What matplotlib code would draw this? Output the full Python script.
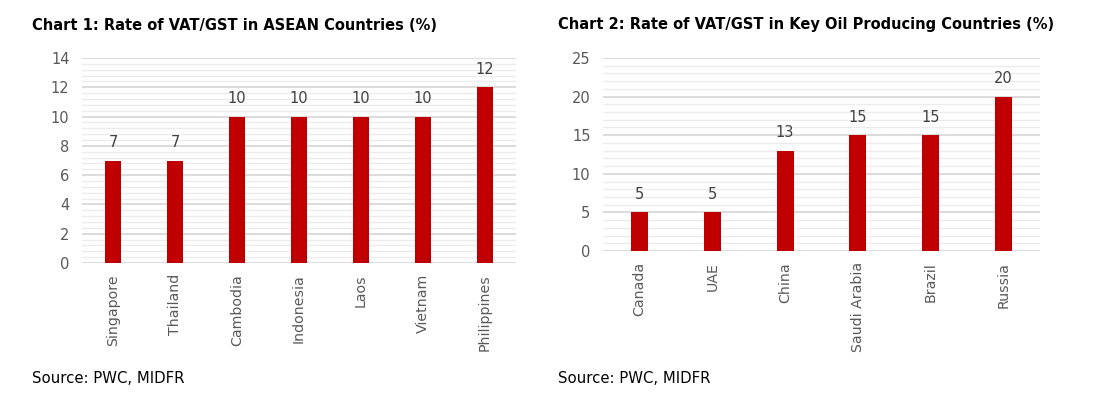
import matplotlib
matplotlib.use("Agg")
import matplotlib.pyplot as plt
from matplotlib.ticker import MultipleLocator

# %% Data
asean_countries = ['Singapore', 'Thailand', 'Cambodia', 'Indonesia', 'Laos', 'Vietnam', 'Philippines']
asean_vat = [7, 7, 10, 10, 10, 10, 12]

oil_countries = ['Canada', 'UAE', 'China', 'Saudi Arabia', 'Brazil', 'Russia']
oil_vat = [5, 5, 13, 15, 15, 20]

title1 = 'Chart 1: Rate of VAT/GST in ASEAN Countries (%)'
title2 = 'Chart 2: Rate of VAT/GST in Key Oil Producing Countries (%)'
source = 'Source: PWC, MIDFR'

# %% Style
bar_color = '#C00000'
tick_color = '#595959'
label_color = '#404040'
plt.rcParams['font.family'] = ['DejaVu Sans']

fig = plt.figure(figsize=(10.98, 4.11), dpi=100)


def draw_chart(ax, cats, vals, ymax, major, width):
    x = range(len(cats))
    ax.bar(x, vals, width=width, color=bar_color, zorder=3)
    # value labels above each bar
    for xi, v in zip(x, vals):
        ax.annotate(str(v), (xi, v), xytext=(0, 7.5), textcoords='offset points',
                    ha='center', va='bottom', fontsize=10.5, color=label_color)
    ax.set_xlim(-0.5, len(cats) - 0.5)
    ax.set_ylim(0, ymax)
    ax.yaxis.set_major_locator(MultipleLocator(major))
    ax.yaxis.set_minor_locator(MultipleLocator(major / 5))
    ax.grid(axis='y', which='major', color='#d9d9d9', linewidth=1.3, zorder=0)
    ax.grid(axis='y', which='minor', color='#ececec', linewidth=1.0, zorder=0)
    ax.set_xticks(list(x))
    ax.set_xticklabels(cats, rotation=90, fontsize=10.2, color=tick_color)
    ax.tick_params(axis='y', labelsize=10.5, labelcolor=tick_color, length=0, pad=9)
    ax.tick_params(axis='y', which='minor', length=0)
    ax.tick_params(axis='x', length=0, pad=8)
    for s in ax.spines.values():
        s.set_visible(False)
    ax.set_axisbelow(True)


ax1 = fig.add_axes([0.0747, 0.360, 0.3953, 0.4988])
draw_chart(ax1, asean_countries, asean_vat, 14, 2, 0.26)

ax2 = fig.add_axes([0.5492, 0.3893, 0.398, 0.4696])
draw_chart(ax2, oil_countries, oil_vat, 25, 5, 0.235)

fig.text(32 / 1098, 1 - 25 / 411, title1, fontsize=10.5, fontweight='bold', va='center', ha='left')
fig.text(558 / 1098, 1 - 25 / 411, title2, fontsize=10.5, fontweight='bold', va='center', ha='left')
fig.text(32 / 1098, 1 - 378 / 411, source, fontsize=10.7, va='center', ha='left')
fig.text(558 / 1098, 1 - 378 / 411, source, fontsize=10.7, va='center', ha='left')

fig.savefig('out.png', dpi=100, facecolor='white')
